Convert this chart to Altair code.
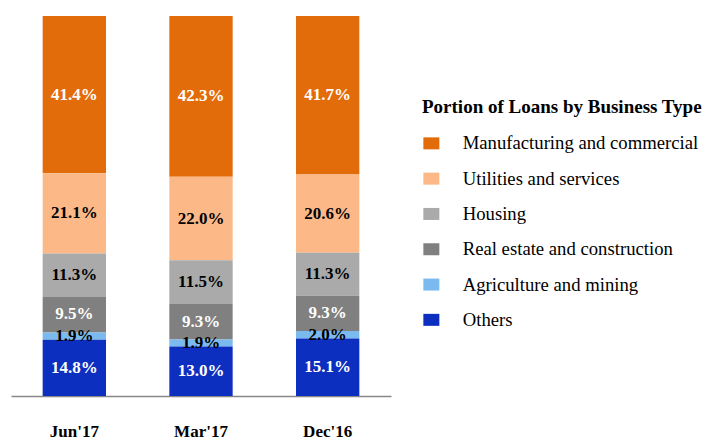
import altair as alt
import pandas as pd

periods = ["Jun'17", "Mar'17", "Dec'16"]
types = [
    "Manufacturing and commercial",
    "Utilities and services",
    "Housing",
    "Real estate and construction",
    "Agriculture and mining",
    "Others",
]
manufacturing = [41.4, 42.3, 41.7]
utilities = [21.1, 22.0, 20.6]
housing = [11.3, 11.5, 11.3]
real_estate = [9.5, 9.3, 9.3]
agriculture = [1.9, 1.9, 2.0]
others = [14.8, 13.0, 15.1]
colors = ["#E36C0A", "#FDB888", "#AAAAAA", "#808080", "#7ABAEE", "#0D2FBF"]
label_colors = ["white", "black", "black", "white", "black", "white"]

series = [manufacturing, utilities, housing, real_estate, agriculture, others]
rows = []
for ti, (t, vals) in enumerate(zip(types, series)):
    for p, v in zip(periods, vals):
        rows.append({
            "period": p,
            "type": t,
            "value": v,
            "order": len(types) - 1 - ti,
            "label": f"{v:.1f}%",
        })
df = pd.DataFrame(rows)

white_types = [t for t, c in zip(types, label_colors) if c == "white"]
white_test = "indexof([" + ",".join("'" + t + "'" for t in white_types) + "], datum.type) >= 0"

base = alt.Chart(df).transform_stack(
    stack="value",
    groupby=["period"],
    as_=["y0", "y1"],
    sort=[alt.SortField("order", order="ascending")],
).transform_calculate(mid="(datum.y0 + datum.y1) / 2")

xenc = alt.X(
    "period:N",
    sort=periods,
    scale=alt.Scale(paddingInner=0.5, paddingOuter=0.25),
    axis=alt.Axis(
        title=None,
        labelAngle=0,
        ticks=False,
        domainColor="#888888",
        domainWidth=1.5,
        labelFont="Liberation Serif",
        labelFontWeight="bold",
        labelFontSize=17,
        labelColor="black",
        labelBaseline="alphabetic",
        labelPadding=40,
    ),
)

bars = base.mark_bar().encode(
    x=xenc,
    y=alt.Y("y0:Q", scale=alt.Scale(domain=[0, 100]), axis=None),
    y2="y1:Q",
    color=alt.Color(
        "type:N",
        scale=alt.Scale(domain=types, range=colors),
        legend=alt.Legend(
            orient="none",
            legendX=411,
            legendY=82,
            title="Portion of  Loans by Business Type",
            titleFont="Liberation Serif",
            titleFontSize=19,
            titleFontWeight="bold",
            titleColor="black",
            titleLimit=400,
            titlePadding=17,
            labelFont="Liberation Serif",
            labelFontSize=18.7,
            labelColor="black",
            labelLimit=400,
            labelOffset=22,
            symbolType="M-1,-0.75H1V0.75H-1Z",
            symbolSize=256,
            symbolStrokeWidth=0,
            rowPadding=15.3,
            padding=0,
        ),
    ),
)

text = base.mark_text(
    font="Liberation Serif", fontWeight="bold", fontSize=17
).encode(
    x=alt.X("period:N", sort=periods),
    y=alt.Y("mid:Q"),
    text="label:N",
    color=alt.condition(white_test, alt.value("white"), alt.value("black")),
)

chart = alt.layer(bars, text).properties(
    width=380,
    height=380,
    autosize=alt.AutoSizeParams(type="none"),
    padding={"left": 3, "top": 8, "right": 312, "bottom": 43},
).configure_view(stroke=None)

chart.save("out.html", embed_options={"renderer": "svg", "actions": False})
